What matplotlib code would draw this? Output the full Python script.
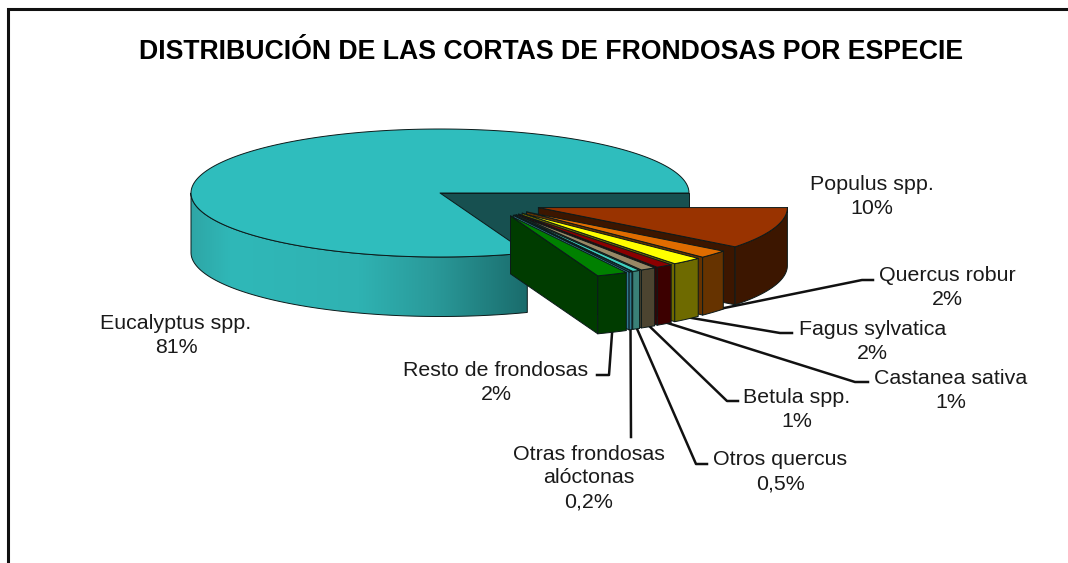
import numpy as np
import matplotlib
matplotlib.use("Agg")
import matplotlib.pyplot as plt
from matplotlib.patches import Polygon
from matplotlib.colors import LinearSegmentedColormap

# ---- data (clockwise from the Eucalyptus cut, front to back = last to first)
species = ["Eucalyptus spp.", "Resto de frondosas", "Otras frondosas\nalóctonas", "Otros quercus",
           "Betula spp.", "Castanea sativa", "Fagus sylvatica", "Quercus robur", "Populus spp."]
shares = [80.7, 2.0, 0.2, 0.5, 1.0, 1.1, 2.0, 2.0, 10.5]
share_labels = ["81%", "2%", "0,2%", "0,5%", "1%", "1%", "2%", "2%", "10%"]
top_colors = ["#2FBDBD", "#008000", "#2F6F88", "#40D0C0", "#998866", "#8B0000", "#FFFF00", "#E06C00", "#993300"]
side_colors = ["#2FB4B4", "#003C00", "#2F7A90", "#3A8078", "#4C4430", "#3C0000", "#6E6A00", "#663300", "#3C1600"]
title = "DISTRIBUCIÓN DE LAS CORTAS DE FRONDOSAS POR ESPECIE"

# ---- layout (pixel space)
W, H = 1068, 563
CX, CY, RX, RY = 440.0, 193.0, 249.0, 64.0
DEPTH_MAIN, DEPTH = 59.5, 58.0
EXPLODE = 0.456
FONT = "Liberation Sans"
LW = 0.7
EDGE = "#0c1a1a"

label_pos = {  # centre x, baseline y of the last line
    "Eucalyptus spp.": (176, 353), "Resto de frondosas": (496, 400),
    "Otras frondosas\nalóctonas": (589, 507), "Otros quercus": (780.5, 489),
    "Betula spp.": (796.5, 427), "Castanea sativa": (951, 408),
    "Fagus sylvatica": (872.5, 359), "Quercus robur": (947.5, 305), "Populus spp.": (871.5, 214),
}
leader_elbows = {
    "Resto de frondosas": [(609, 375), (597, 375)],
    "Otras frondosas\nalóctonas": [(631, 437)],
    "Otros quercus": [(696, 464), (707, 464)],
    "Betula spp.": [(727, 401), (738, 401)],
    "Castanea sativa": [(855, 382), (868, 382)],
    "Fagus sylvatica": [(780, 333), (792, 333)],
    "Quercus robur": [(862, 280), (873, 280)],
}

fig = plt.figure(figsize=(W / 100, H / 100), dpi=100, facecolor="white")
ax = fig.add_axes([0, 0, 1, 1])
ax.set_xlim(0, W)
ax.set_ylim(H, 0)
ax.axis("off")


def pt(cx, cy, a, r=1.0):
    return cx + r * RX * np.cos(a), cy - r * RY * np.sin(a)


def arc(cx, cy, a0, a1, n=60):
    t = np.linspace(a0, a1, n)
    return np.column_stack(pt(cx, cy, t))


def poly(points, color, z, ec=EDGE, lw=LW):
    p = Polygon(points, closed=True, fc=color, ec=ec, lw=lw, zorder=z, joinstyle="round")
    ax.add_patch(p)
    return p


total = sum(shares)
sweep = [np.deg2rad(v / total * 360) for v in shares]

# frame
ax.plot([7.5, 7.5, W], [H, 9, 9], color="#111111", lw=2.2, zorder=1, solid_joinstyle="miter")

# ---- main slice: spans from 0 counter-clockwise
a_end = sweep[0]
side_cmap = LinearSegmentedColormap.from_list(
    "side", [(0, "#2EA6A6"), (0.12, "#30B8B8"), (0.5, "#2FB2B2"), (0.72, "#2A9A9A"), (1, "#1A6C6C")])
z = 10
poly([(CX, CY), pt(CX, CY, 0), (pt(CX, CY, 0)[0], CY + DEPTH_MAIN), (CX, CY + DEPTH_MAIN)], "#175050", z)
x_left = pt(CX, CY, np.pi)[0]
x_right = pt(CX, CY, a_end)[0]
front = arc(CX, CY, np.pi, a_end, 200)
side_outline = np.vstack([front, (front + [0, DEPTH_MAIN])[::-1]])
clip = poly(side_outline, "none", z + 2)
grad = ax.imshow(np.linspace(0, 1, 512)[None, :], cmap=side_cmap, aspect="auto", zorder=z + 1,
                 extent=(x_left, x_right, H, 0), interpolation="bilinear")
grad.set_clip_path(clip)
ax.set_xlim(0, W)
ax.set_ylim(H, 0)
poly(np.vstack([[(CX, CY)], arc(CX, CY, 0, a_end, 240)]), top_colors[0], z + 3)

# ---- exploded slices, painted back (last) to front (first)
a = a_end
spans = []
for v_sweep in sweep[1:]:
    spans.append((a, a + v_sweep))
    a += v_sweep
mid_ref_back, mid_ref_front = np.deg2rad(-19.0), np.deg2rad(-66.7)
dir_back, dir_front = np.deg2rad(-30.0), np.deg2rad(-52.0)

anchors = {}
for i in range(len(spans) - 1, -1, -1):
    a0, a1 = spans[i]
    mid = 0.5 * (a0 + a1) - 2 * np.pi
    f = (mid - mid_ref_back) / (mid_ref_front - mid_ref_back)
    d = dir_back + f * (dir_front - dir_back)
    ax_, ay_ = pt(CX, CY, d, EXPLODE)
    zz = 30 + (len(spans) - i) * 5
    top_c, side_c = top_colors[i + 1], side_colors[i + 1]
    p0 = pt(ax_, ay_, a0)
    # cut face on the near side
    poly([(ax_, ay_), p0, (p0[0], p0[1] + DEPTH), (ax_, ay_ + DEPTH)], side_c, zz)
    # outer rim
    rim = arc(ax_, ay_, a0, a1, 40)
    poly(np.vstack([rim, (rim + [0, DEPTH])[::-1]]), side_c, zz + 1)
    # top
    poly(np.vstack([[(ax_, ay_)], rim]), top_c, zz + 2)
    mx, my = pt(ax_, ay_, 0.5 * (a0 + a1))
    anchors[species[i + 1]] = (mx, my + DEPTH - 2)

# ---- leaders
for name, elbow in leader_elbows.items():
    pts = np.array([anchors[name]] + elbow)
    ax.plot(pts[:, 0], pts[:, 1], color="#111111", lw=1.8, zorder=5, solid_joinstyle="round")

# ---- text
for name, share in zip(species, share_labels):
    x, y = label_pos[name]
    ax.text(x, y, f"{name}\n{share}", ha="center", va="baseline", ma="center", family=FONT,
            fontsize=15.4, color="#1a1a1a", linespacing=1.31, zorder=100)
ax.text(551, 59, title, ha="center", va="baseline", family=FONT, fontweight="bold",
        fontsize=19.2, color="black", zorder=100)

fig.savefig("out.png", dpi=100)
